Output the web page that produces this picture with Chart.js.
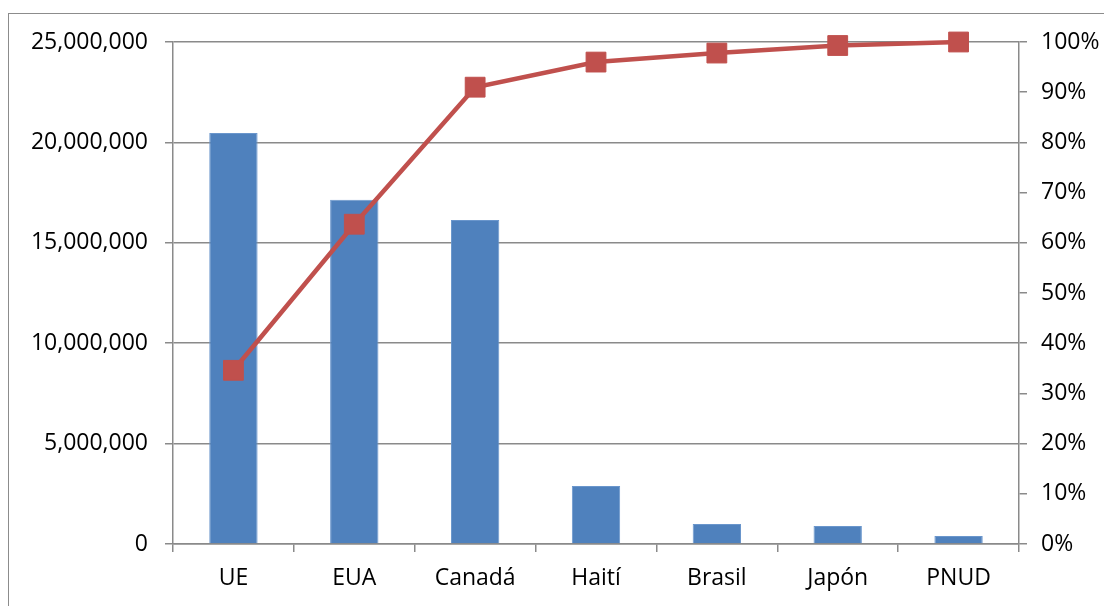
<!DOCTYPE html>
<html>
<head>
<meta charset="utf-8">
<script src="https://cdn.jsdelivr.net/npm/chart.js@4"></script>
<style>
  html, body { margin: 0; padding: 0; background: #fff; }
  #wrap { width: 1104px; height: 606px; position: relative; }
</style>
</head>
<body>
<div id="wrap"><canvas id="pareto"></canvas></div>
<script>
const categories = ['UE', 'EUA', 'Canadá', 'Haití', 'Brasil', 'Japón', 'PNUD'];
const amounts = [20470000, 17150000, 16130000, 2890000, 1000000, 900000, 400000];
const cumulativePct = [34.6, 63.7, 91.0, 96.0, 97.8, 99.3, 100];

const gray = '#8a8a8a';
const font = { family: "'Open Sans', 'Noto Sans', sans-serif", size: 23 };

// marco exterior del gráfico
const frame = {
  id: 'frame',
  beforeDraw(chart) {
    const ctx = chart.ctx;
    ctx.save();
    ctx.strokeStyle = '#8c8c8c';
    ctx.lineWidth = 1;
    ctx.strokeRect(8.5, 13.5, 1110, 620);
    ctx.restore();
  }
};

new Chart(document.getElementById('pareto').getContext('2d'), {
  data: {
    labels: categories,
    datasets: [{
      type: 'line',
      data: cumulativePct,
      yAxisID: 'y1',
      borderColor: '#C0504D',
      backgroundColor: '#C0504D',
      borderWidth: 4.5,
      pointStyle: 'rect',
      pointRadius: 14,
      pointBorderWidth: 1,
      pointBorderColor: '#C0504D',
      clip: false,
      order: 0
    }, {
      type: 'bar',
      data: amounts,
      yAxisID: 'y',
      backgroundColor: '#4F81BD',
      borderColor: '#6a96cc',
      borderWidth: 1,
      barPercentage: 0.4,
      categoryPercentage: 1,
      order: 1
    }]
  },
  options: {
    responsive: true,
    maintainAspectRatio: false,
    animation: false,
    layout: { padding: { top: 42, left: 0, right: 0, bottom: 0 } },
    plugins: { legend: { display: false }, tooltip: { enabled: false } },
    scales: {
      x: {
        offset: true,
        grid: { offset: true, drawOnChartArea: false, color: gray, lineWidth: 1.5, tickLength: 8 },
        border: { display: true, color: gray, width: 1.5 },
        ticks: { color: '#000', font: font, padding: 13 },
        afterFit(s) { s.height = 62; }
      },
      y: {
        position: 'left',
        min: 0,
        max: 25000000,
        ticks: {
          stepSize: 5000000,
          color: '#000',
          font: font,
          padding: 17,
          callback: v => v.toLocaleString('en-US')
        },
        grid: { color: gray, lineWidth: 1.5, tickLength: 8 },
        border: { display: true, color: gray, width: 1.5 },
        afterFit(s) { s.width = 173; }
      },
      y1: {
        position: 'right',
        min: 0,
        max: 100,
        ticks: {
          stepSize: 10,
          color: '#000',
          font: font,
          padding: 14,
          callback: v => v + '%'
        },
        grid: { drawOnChartArea: false, color: gray, lineWidth: 1.5, tickLength: 8 },
        border: { display: true, color: gray, width: 1.5 },
        afterFit(s) { s.width = 85; }
      }
    }
  },
  plugins: [frame]
});
</script>
</body>
</html>
